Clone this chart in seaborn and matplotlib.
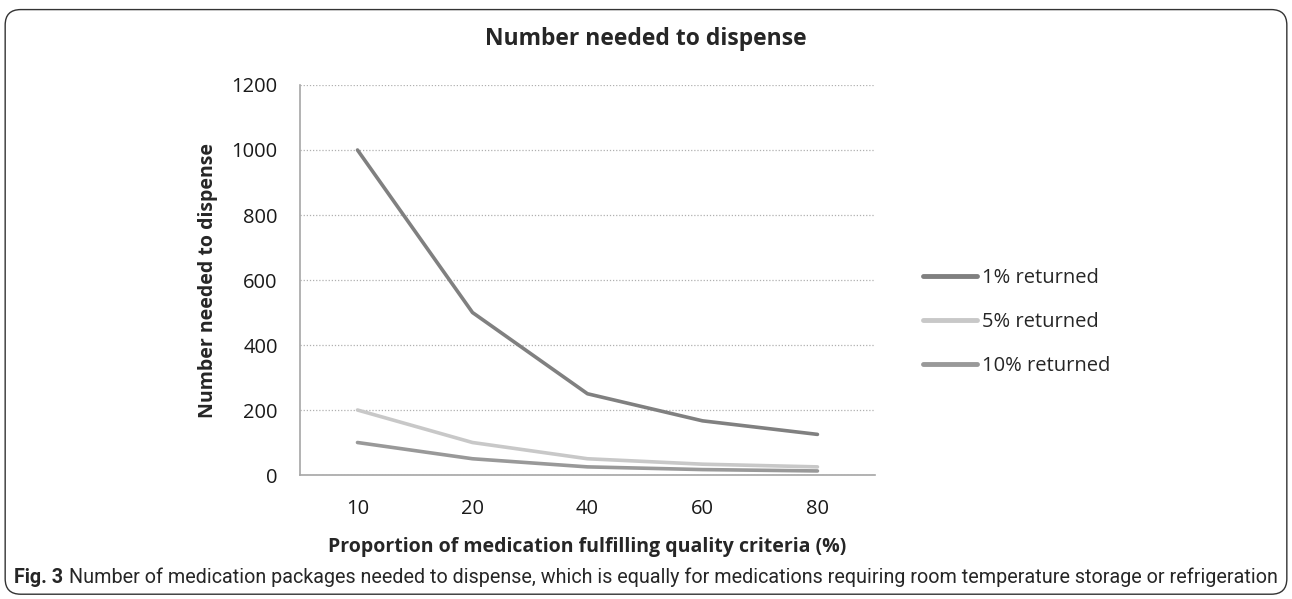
import matplotlib.pyplot as plt
import seaborn as sns
import pandas as pd
from matplotlib.patches import FancyBboxPatch

proportions = ["10", "20", "40", "60", "80"]
returned_1 = [1000, 500, 250, 166.7, 125]
returned_5 = [200, 100, 50, 33.3, 25]
returned_10 = [100, 50, 25, 16.7, 12.5]
series_names = ["1% returned", "5% returned", "10% returned"]
y_ticks = [0, 200, 400, 600, 800, 1000, 1200]

rows = []
for name, vals in zip(series_names, [returned_1, returned_5, returned_10]):
    for p, v in zip(proportions, vals):
        rows.append({"proportion": p, "nnd": v, "series": name})
df = pd.DataFrame(rows)

sns.set_style("white")
plt.rcParams["font.family"] = ["Open Sans", "DejaVu Sans"]

fig = plt.figure(figsize=(12.92, 5.99), dpi=100)
ax = fig.add_axes([0.2322, 0.2070, 0.4450, 0.6511])

palette = {"1% returned": "#808080", "5% returned": "#c8c8c8", "10% returned": "#999999"}
sns.lineplot(data=df, x="proportion", y="nnd", hue="series", palette=palette,
             linewidth=2.6, sort=False, ax=ax, legend=False)

ax.set_xlim(-0.5, 4.5)
ax.set_ylim(0, 1200)
ax.set_yticks(y_ticks)
ax.yaxis.grid(True, linestyle=(0, (1, 1.5)), color="#b0b0b0", linewidth=0.9)
ax.set_axisbelow(True)
for side in ["top", "right"]:
    ax.spines[side].set_visible(False)
for side in ["left", "bottom"]:
    ax.spines[side].set_color("#a6a6a6")
    ax.spines[side].set_linewidth(1.2)
ax.tick_params(axis="both", length=0, labelsize=14.5, colors="#1a1a1a")
ax.tick_params(axis="y", pad=16)
ax.tick_params(axis="x", pad=17)

ax.set_xlabel("Proportion of medication fulfilling quality criteria (%)",
              fontsize=14, fontweight="bold", labelpad=13)
ax.set_ylabel("Number needed to dispense", fontsize=14, fontweight="bold", labelpad=10)

fig.text(0.5, 0.935, "Number needed to dispense", ha="center", va="center",
         fontsize=16.5, fontweight="bold")

# legend built from the same palette
handles = [plt.Line2D([], [], color=palette[n], linewidth=3.5) for n in series_names]
fig.legend(handles, series_names, loc="center left", bbox_to_anchor=(0.700, 0.462),
           frameon=False, fontsize=14.5, handlelength=2.7, handletextpad=0.25,
           labelspacing=1.2)

# caption, scaled to span the figure width
cap_font = ["Roboto", "DejaVu Sans"]
cap_size = 13
cap_y = 0.036
cap = fig.text(0.011, cap_y, "Fig. 3", ha="left", va="center", fontsize=cap_size,
               fontweight="bold", family=cap_font)
rest = fig.text(0.0, cap_y,
                "Number of medication packages needed to dispense, which is equally for "
                "medications requiring room temperature storage or refrigeration",
                ha="left", va="center", fontsize=cap_size, family=cap_font)
fig.canvas.draw()
r = fig.canvas.get_renderer()
total = cap.get_window_extent(r).width + 5 + rest.get_window_extent(r).width
scale = 1262 / total
cap.set_fontsize(cap_size * scale)
rest.set_fontsize(cap_size * scale)
fig.canvas.draw()
bb = cap.get_window_extent(r).transformed(fig.transFigure.inverted())
rest.set_x(bb.x1 + 0.004)

border = FancyBboxPatch((0.004, 0.008), 0.992, 0.976, boxstyle="round,pad=0,rounding_size=0.012",
                        transform=fig.transFigure, fill=False, edgecolor="#333333",
                        linewidth=1.0, mutation_aspect=12.92 / 5.99)
fig.patches.append(border)

fig.savefig("out.png", dpi=100)
